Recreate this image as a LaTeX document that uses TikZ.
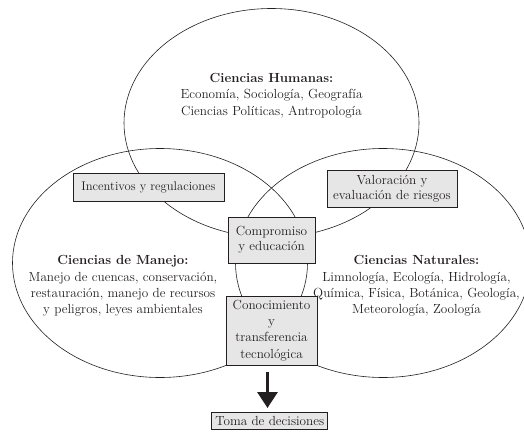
\documentclass[tikz,border=0pt]{standalone}
\usepackage{tikz}
\usetikzlibrary{shapes.geometric,arrows.meta}
\definecolor{boxgray}{HTML}{E6E6E6}
\definecolor{ink}{HTML}{231F20}
\begin{document}
\begin{tikzpicture}[x=1pt,y=-1pt,
  venn/.style={draw=ink, line width=0.6pt, ellipse, inner sep=0pt, minimum width=295pt, minimum height=229pt},
  txt/.style={align=center, text=ink, font=\fontsize{13.2}{16.3}\selectfont},
  gbox/.style={draw=ink, fill=boxgray, line width=0.7pt, inner sep=0pt, align=center, text=ink, font=\fontsize{13.2}{15}\selectfont},
]
\useasboundingbox (0,0) rectangle (524,431);
\node[venn] (hum) at (271.5,123) {};
\node[venn] (man) at (160,263) {};
\node[venn] (nat) at (383,263) {};

\node[txt] (thum) at (271.5,95.5) {\textbf{Ciencias Humanas:}\\Economía, Sociología, Geografía\\Ciencias Políticas, Antropología};
\node[txt] (tman) at (123,286) {\textbf{Ciencias de Manejo:}\\Manejo de cuencas, conservación,\\restauración, manejo de recursos\\y peligros, leyes ambientales};
\node[txt] (tnat) at (416.5,286) {\textbf{Ciencias Naturales:}\\Limnología, Ecología, Hidrología,\\Química, Física, Botánica, Geología,\\Meteorología, Zoología};

\node[gbox, minimum width=151pt, minimum height=28pt, font=\fontsize{12.6}{15}\selectfont] (inc) at (148.5,187) {Incentivos y regulaciones};
\node[gbox, minimum width=130pt, minimum height=37pt] (val) at (392,188.5) {Valoración y\\evaluación de riesgos};
\node[gbox, minimum width=87pt, minimum height=46pt] (com) at (271.5,240) {Compromiso\\y educación};
\node[gbox, minimum width=91pt, minimum height=69pt, font=\fontsize{13.2}{16.3}\selectfont] (kno) at (271.5,330.5) {Conocimiento\\y\\transferencia\\tecnológica};
\node[gbox, minimum width=116pt, minimum height=17pt] (tom) at (269.75,421) {Toma de decisiones};

\coordinate (a1) at (267.5,372);
\coordinate (a2) at (267.5,408);
\draw[draw=ink, line width=3.2pt, -{Triangle[width=20pt,length=16pt]}] (a1) -- (a2);
\end{tikzpicture}
\end{document}
